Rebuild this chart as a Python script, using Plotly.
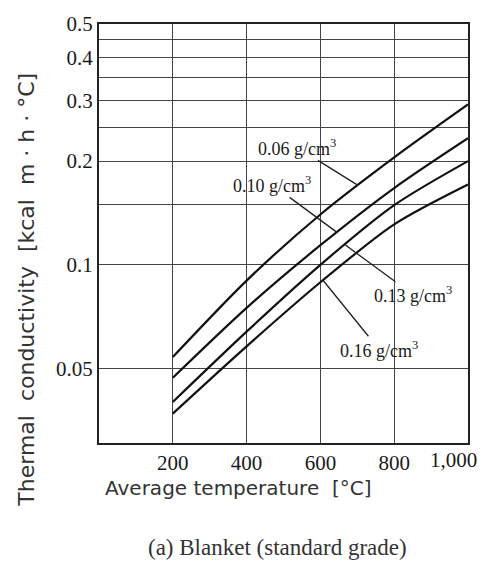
import numpy as np
import plotly.graph_objects as go

# ---- data ----
temperature = [200, 400, 600, 800, 1000]
densities = ["0.06", "0.10", "0.13", "0.16"]
k_006 = [0.054, 0.090, 0.140, 0.205, 0.292]
k_010 = [0.047, 0.075, 0.114, 0.167, 0.233]
k_013 = [0.040, 0.064, 0.100, 0.149, 0.200]
k_016 = [0.037, 0.058, 0.089, 0.131, 0.171]
series = [k_006, k_010, k_013, k_016]

y_grid = [0.05, 0.1, 0.15, 0.2, 0.25, 0.3, 0.35, 0.4, 0.45, 0.5]
y_text = ["0.05", "0.1", "", "0.2", "", "0.3", "", "0.4", "", "0.5"]
x_ticks = [200, 400, 600, 800]
x_text = ["200", "400", "600", "800"]

# label anchor x on each curve, and text offsets (px)
label_x = [702, 645, 667, 607]
label_off = [(-61, -38), (-65, -48), (68, 50), (56, 69)]

fig = go.Figure()
for vals in series:
    fig.add_trace(go.Scatter(x=temperature, y=vals, mode="lines",
                             line=dict(color="#111", width=2.2, shape="spline", smoothing=0.8),
                             showlegend=False, hoverinfo="skip"))

serif = "Liberation Serif"
sans = "DejaVu Sans"

annotations = []
for d, vals, lx, (ax, ay) in zip(densities, series, label_x, label_off):
    ly = float(10 ** np.interp(lx, temperature, np.log10(vals)))
    annotations.append(dict(x=lx, y=np.log10(ly), xref="x", yref="y",
                            text=f"{d} g/cm<sup>3</sup>", showarrow=True,
                            arrowhead=0, arrowwidth=1.3, arrowcolor="#222",
                            ax=ax, ay=ay, standoff=0,
                            font=dict(family=serif, size=18, color="#1a1a1a")))

annotations.append(dict(x=1000, y=-0.04, xref="x", yref="paper", text="1,000",
                        showarrow=False, xshift=-15, yanchor="middle",
                        font=dict(family=serif, size=21, color="#1a1a1a")))
annotations.append(dict(x=0.377, y=-0.108, xref="paper", yref="paper",
                        text="Average temperature  [°C]", showarrow=False,
                        yanchor="middle", font=dict(family=sans, size=20, color="#333")))
annotations.append(dict(x=0.485, y=-0.25, xref="paper", yref="paper",
                        text="(a) Blanket (standard grade)", showarrow=False,
                        yanchor="middle", font=dict(family=serif, size=23, color="#333")))
annotations.append(dict(x=-0.195, y=0.366, xref="paper", yref="paper",
                        text="Thermal  conductivity  [kcal  m · h · °C]", showarrow=False,
                        textangle=-90, xanchor="center", yanchor="middle",
                        font=dict(family=sans, size=22, color="#333")))

fig.update_layout(
    width=493, height=562,
    margin=dict(l=99, r=25, t=20, b=119),
    paper_bgcolor="white", plot_bgcolor="white",
    annotations=annotations,
    xaxis=dict(range=[0, 1000], tickvals=x_ticks, ticktext=x_text,
               showgrid=True, gridcolor="#444", gridwidth=1.4,
               showline=True, linecolor="#222", linewidth=2, mirror=True,
               ticks="", zeroline=False,
               tickfont=dict(family=serif, size=21, color="#1a1a1a")),
    yaxis=dict(type="log", range=[np.log10(0.0304), np.log10(0.5)],
               tickvals=y_grid, ticktext=y_text,
               showgrid=True, gridcolor="#444", gridwidth=1.4,
               showline=True, linecolor="#222", linewidth=2, mirror=True,
               ticks="", zeroline=False,
               tickfont=dict(family=serif, size=21, color="#1a1a1a")),
)

fig.write_html("out.html")
